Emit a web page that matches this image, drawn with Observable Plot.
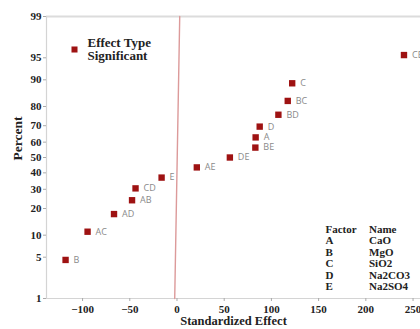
<!DOCTYPE html>
<html>
<head>
<meta charset="utf-8">
<script src="https://cdn.jsdelivr.net/npm/d3@7"></script>
<script src="https://cdn.jsdelivr.net/npm/@observablehq/plot@0.6"></script>
<style>
  html, body { margin: 0; padding: 0; background: #fff; overflow: hidden; }
  #chart { width: 420px; height: 329px; overflow: hidden; }
</style>
</head>
<body>
<div id="chart"></div>
<script>
// ---- data ----
const effectNames = ["B", "AC", "AD", "AB", "CD", "E", "AE", "DE", "BE", "A", "D", "BD", "BC", "C", "CE"];
const effectValues = [-118, -94.7, -66.7, -47.6, -43.9, -16.3, 21, 56, 83, 83.3, 87.6, 107.4, 117.3, 122, 240.4];
const effectPercents = [4.55, 11.04, 17.53, 24.03, 30.52, 37.01, 43.51, 50, 56.49, 62.99, 69.48, 75.97, 82.47, 88.96, 95.45];
const fitEffect = [-2.4, 2.9];
const fitPercent = [1, 99];
const xTicks = [-100, -50, 0, 50, 100, 150, 200, 250];
const yTicks = [1, 5, 10, 20, 30, 40, 50, 60, 70, 80, 90, 95, 99];
const factorLetters = ["A", "B", "C", "D", "E"];
const factorNames = ["CaO", "MgO", "SiO2", "Na2CO3", "Na2SO4"];
const legendTitle = "Effect Type";
const legendItem = "Significant";

// normal quantile (probit) for the probability scale
function probit(p) {
  const a = [-3.969683028665376e+01, 2.209460984245205e+02, -2.759285104469687e+02, 1.383577518672690e+02, -3.066479806614716e+01, 2.506628277459239e+00];
  const b = [-5.447609879822406e+01, 1.615858368580409e+02, -1.556989798598866e+02, 6.680131188771972e+01, -1.328068155288572e+01];
  const c = [-7.784894002430293e-03, -3.223964580411365e-01, -2.400758277161838e+00, -2.549732539343734e+00, 4.374664141464968e+00, 2.938163982698783e+00];
  const d = [7.784695709041462e-03, 3.224671290700398e-01, 2.445134137142996e+00, 3.754408661907416e+00];
  const pl = 0.02425, ph = 1 - pl;
  let q, r;
  if (p < pl) {
    q = Math.sqrt(-2 * Math.log(p));
    return (((((c[0]*q+c[1])*q+c[2])*q+c[3])*q+c[4])*q+c[5]) / ((((d[0]*q+d[1])*q+d[2])*q+d[3])*q+1);
  } else if (p <= ph) {
    q = p - 0.5; r = q * q;
    return (((((a[0]*r+a[1])*r+a[2])*r+a[3])*r+a[4])*r+a[5])*q / (((((b[0]*r+b[1])*r+b[2])*r+b[3])*r+b[4])*r+1);
  } else {
    q = Math.sqrt(-2 * Math.log(1 - p));
    return -(((((c[0]*q+c[1])*q+c[2])*q+c[3])*q+c[4])*q+c[5]) / ((((d[0]*q+d[1])*q+d[2])*q+d[3])*q+1);
  }
}
const pz = (pct) => probit(pct / 100);

const effects = effectNames.map((n, i) => ({name: n, x: effectValues[i], z: pz(effectPercents[i])}));
const fitLine = fitEffect.map((x, i) => ({x, z: pz(fitPercent[i])}));
const yTickZ = yTicks.map(pz);

const serif = "'Liberation Serif', 'Times New Roman', serif";
const red = "#9e1212";

const plot = Plot.plot({
  width: 420,
  height: 329,
  marginLeft: 46,
  marginRight: 0,
  marginTop: 16,
  marginBottom: 31,
  style: {fontFamily: serif, fontWeight: "bold", background: "#fff", overflow: "hidden"},
  x: {domain: [-138.2, 257.9]},
  y: {domain: [pz(1), pz(99)]},
  marks: [
    // plot frame (top, left, bottom)
    Plot.ruleY([pz(99)], {stroke: "#dcdcdc", strokeWidth: 2}),
    Plot.ruleY([pz(1)], {stroke: "#d4d4d4", strokeWidth: 1.2}),
    Plot.ruleX([-138.2], {stroke: "#d4d4d4", strokeWidth: 1.2}),
    Plot.axisX({ticks: xTicks, tickSize: 3, tickPadding: 4, stroke: "#aaa", fill: "#222", fontSize: 11, label: null}),
    Plot.axisY({ticks: yTickZ, tickFormat: (d) => yTicks[yTickZ.indexOf(d)], tickSize: 3, tickPadding: 2, stroke: "#aaa", fill: "#222", fontSize: 11, label: null}),
    // fitted line
    Plot.line(fitLine, {x: "x", y: "z", stroke: "#dc9a9a", strokeWidth: 1.4}),
    // effects
    Plot.dot(effects, {x: "x", y: "z", symbol: "square", r: 3.6, fill: red, stroke: "none"}),
    Plot.text(effects, {x: "x", y: "z", text: "name", dx: 8, textAnchor: "start", fill: "#8a8a8a", fontSize: 9, fontWeight: "normal", fontFamily: "'Open Sans', 'Noto Sans', sans-serif"}),
    // axis titles
    Plot.text(["Standardized Effect"], {frameAnchor: "bottom", dy: 26.5, fontSize: 12.5, fill: "#222"}),
    Plot.text(["Percent"], {frameAnchor: "left", rotate: -90, dx: -29, dy: 3, fontSize: 13.5, fill: "#222"}),
    // legend
    Plot.dot([legendItem], {frameAnchor: "top-left", dx: 28, dy: 33, symbol: "square", r: 3.4, fill: red, stroke: "none"}),
    Plot.text([legendTitle], {frameAnchor: "top-left", dx: 41, dy: 21, textAnchor: "start", fontSize: 13, fill: "#222"}),
    Plot.text([legendItem], {frameAnchor: "top-left", dx: 41, dy: 34, textAnchor: "start", fontSize: 13, fill: "#222"}),
    // factor table
    Plot.text([["Factor", ...factorLetters].join("\n")], {frameAnchor: "top-left", dx: 279, dy: 208, textAnchor: "start", lineAnchor: "top", lineHeight: 1.05, fontSize: 11, fill: "#222"}),
    Plot.text([["Name", ...factorNames].join("\n")], {frameAnchor: "top-left", dx: 322.5, dy: 208, textAnchor: "start", lineAnchor: "top", lineHeight: 1.05, fontSize: 11, fill: "#222"})
  ]
});
document.getElementById("chart").appendChild(plot);
</script>
</body>
</html>
